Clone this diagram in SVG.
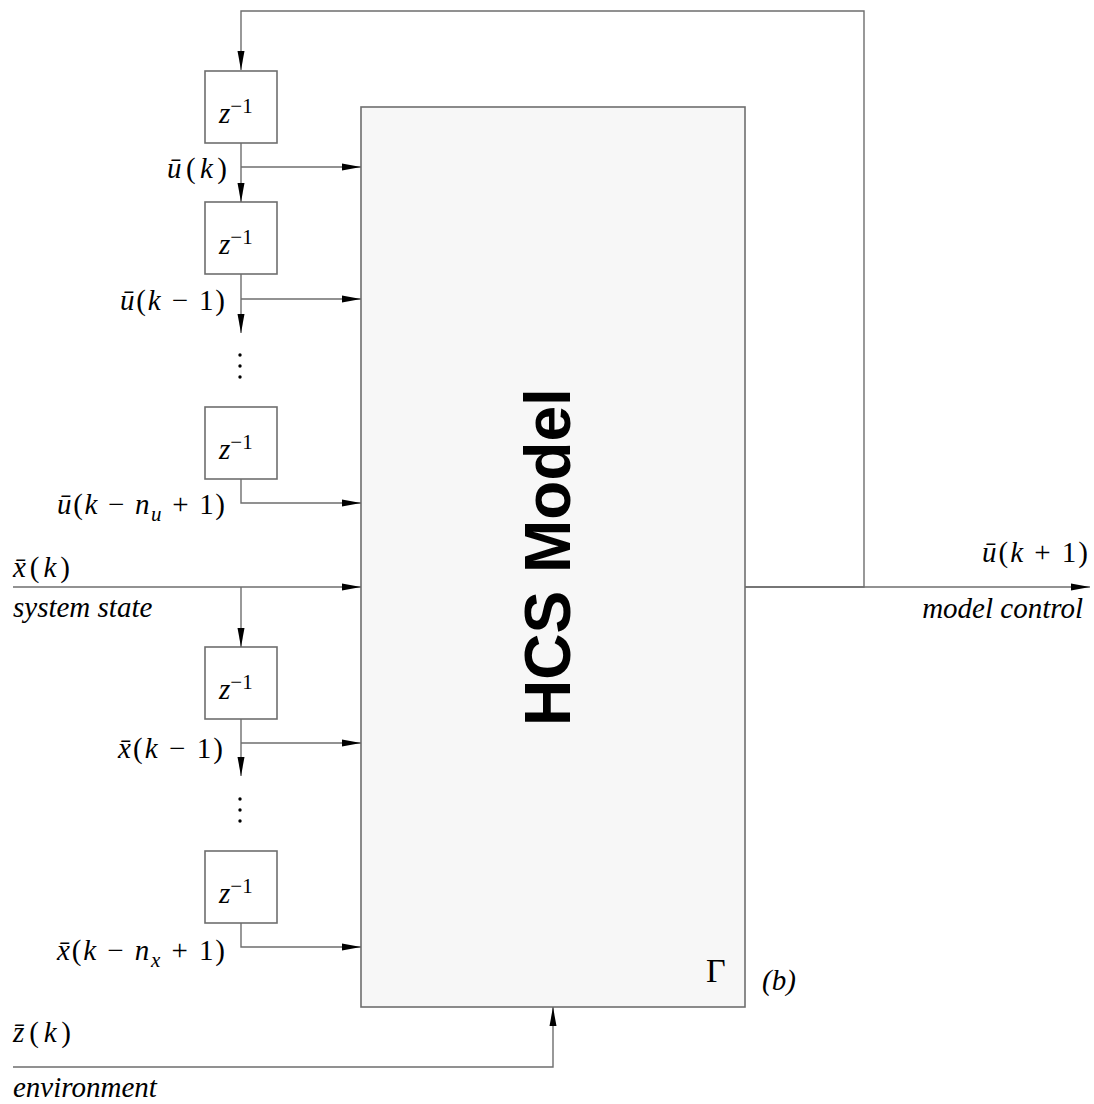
<svg xmlns="http://www.w3.org/2000/svg" width="1094" height="1104" viewBox="0 0 1094 1104">
<style>
.ln{fill:none;stroke:#6e6e6e;stroke-width:1.4}
.bx{fill:#ffffff;stroke:#6e6e6e;stroke-width:1.6}
.main{fill:#f7f7f7;stroke:#6e6e6e;stroke-width:1.6}
.t{font-family:'Liberation Serif','Times New Roman',Times,serif;font-size:29px;fill:#000}
.i{font-style:italic}
.sub{font-size:21px}
.big{font-size:34px}
.hcs{font-family:'Liberation Sans',Arial,Helvetica,sans-serif;font-weight:bold;font-size:64px;fill:#000}
</style>
<defs>
<marker id="ah" markerWidth="20" markerHeight="8" refX="19" refY="4" orient="auto" markerUnits="userSpaceOnUse">
<path d="M0,0.5 L19,4 L0,7.5 Z" fill="#000"/>
</marker>
</defs>

<g id="hcs-model">
<rect class="main" x="361" y="107" width="384" height="900"/>
<text class="hcs" transform="translate(570,557) rotate(-90)" text-anchor="middle">HCS Model</text>
<text class="t big" x="706" y="982">Γ</text>
</g>
<text class="t i" x="762" y="990">(b)</text>

<g id="delay-u1">
<rect class="bx" x="205" y="71" width="72" height="72"/>
<text class="t"><tspan class="i" x="219" y="123">z</tspan><tspan class="sub" dy="-10">−1</tspan></text>
</g>
<g id="delay-u2">
<rect class="bx" x="205" y="202" width="72" height="72"/>
<text class="t"><tspan class="i" x="219" y="254">z</tspan><tspan class="sub" dy="-10">−1</tspan></text>
</g>
<g id="delay-u3">
<rect class="bx" x="205" y="407" width="72" height="72"/>
<text class="t"><tspan class="i" x="219" y="459">z</tspan><tspan class="sub" dy="-10">−1</tspan></text>
</g>
<g id="delay-x1">
<rect class="bx" x="205" y="647" width="72" height="72"/>
<text class="t"><tspan class="i" x="219" y="699">z</tspan><tspan class="sub" dy="-10">−1</tspan></text>
</g>
<g id="delay-x2">
<rect class="bx" x="205" y="851" width="72" height="72"/>
<text class="t"><tspan class="i" x="219" y="903">z</tspan><tspan class="sub" dy="-10">−1</tspan></text>
</g>

<g id="connectors">
<polyline class="ln" points="745,587 864,587 864,11 241,11 241,70" marker-end="url(#ah)"/>
<line class="ln" x1="241" y1="143" x2="241" y2="202" marker-end="url(#ah)"/>
<line class="ln" x1="241" y1="167" x2="361" y2="167" marker-end="url(#ah)"/>
<line class="ln" x1="241" y1="274" x2="241" y2="333" marker-end="url(#ah)"/>
<line class="ln" x1="241" y1="299" x2="361" y2="299" marker-end="url(#ah)"/>
<polyline class="ln" points="241,479 241,503 361,503" marker-end="url(#ah)"/>
<line class="ln" x1="13" y1="587" x2="361" y2="587" marker-end="url(#ah)"/>
<line class="ln" x1="241" y1="587" x2="241" y2="647" marker-end="url(#ah)"/>
<line class="ln" x1="241" y1="719" x2="241" y2="776" marker-end="url(#ah)"/>
<line class="ln" x1="241" y1="743" x2="361" y2="743" marker-end="url(#ah)"/>
<polyline class="ln" points="241,923 241,947 361,947" marker-end="url(#ah)"/>
<polyline class="ln" points="13,1067 553,1067 553,1007" marker-end="url(#ah)"/>
<line class="ln" x1="745" y1="587" x2="1090" y2="587" marker-end="url(#ah)"/>
</g>

<g id="dots" fill="#000">
<circle cx="240" cy="355" r="1.7"/><circle cx="240" cy="366" r="1.7"/><circle cx="240" cy="377" r="1.7"/>
<circle cx="240" cy="799" r="1.7"/><circle cx="240" cy="810" r="1.7"/><circle cx="240" cy="821" r="1.7"/>
</g>

<g id="labels">
<text class="t" x="167" y="178" textLength="60" lengthAdjust="spacing"><tspan class="i">ū</tspan>(<tspan class="i">k</tspan>)</text>
<text class="t" x="120" y="310" textLength="105" lengthAdjust="spacing"><tspan class="i">ū</tspan>(<tspan class="i">k</tspan> − 1)</text>
<text class="t" x="57" y="514" textLength="168" lengthAdjust="spacing"><tspan class="i">ū</tspan>(<tspan class="i">k</tspan> − <tspan class="i">n</tspan><tspan class="i sub" dy="7">u</tspan><tspan dy="-7"> + 1)</tspan></text>
<text class="t" x="13" y="577" textLength="57" lengthAdjust="spacing"><tspan class="i">x̄</tspan>(<tspan class="i">k</tspan>)</text>
<text class="t i" x="13" y="617">system state</text>
<text class="t" x="118" y="758" textLength="105" lengthAdjust="spacing"><tspan class="i">x̄</tspan>(<tspan class="i">k</tspan> − 1)</text>
<text class="t" x="57" y="960" textLength="168" lengthAdjust="spacing"><tspan class="i">x̄</tspan>(<tspan class="i">k</tspan> − <tspan class="i">n</tspan><tspan class="i sub" dy="7">x</tspan><tspan dy="-7"> + 1)</tspan></text>
<text class="t" x="982" y="562" textLength="106" lengthAdjust="spacing"><tspan class="i">ū</tspan>(<tspan class="i">k</tspan> + 1)</text>
<text class="t i" x="1083" y="618" text-anchor="end">model control</text>
<text class="t" x="13" y="1042" textLength="58" lengthAdjust="spacing"><tspan class="i">z̄</tspan>(<tspan class="i">k</tspan>)</text>
<text class="t i" x="13" y="1097">environment</text>
</g>
</svg>
